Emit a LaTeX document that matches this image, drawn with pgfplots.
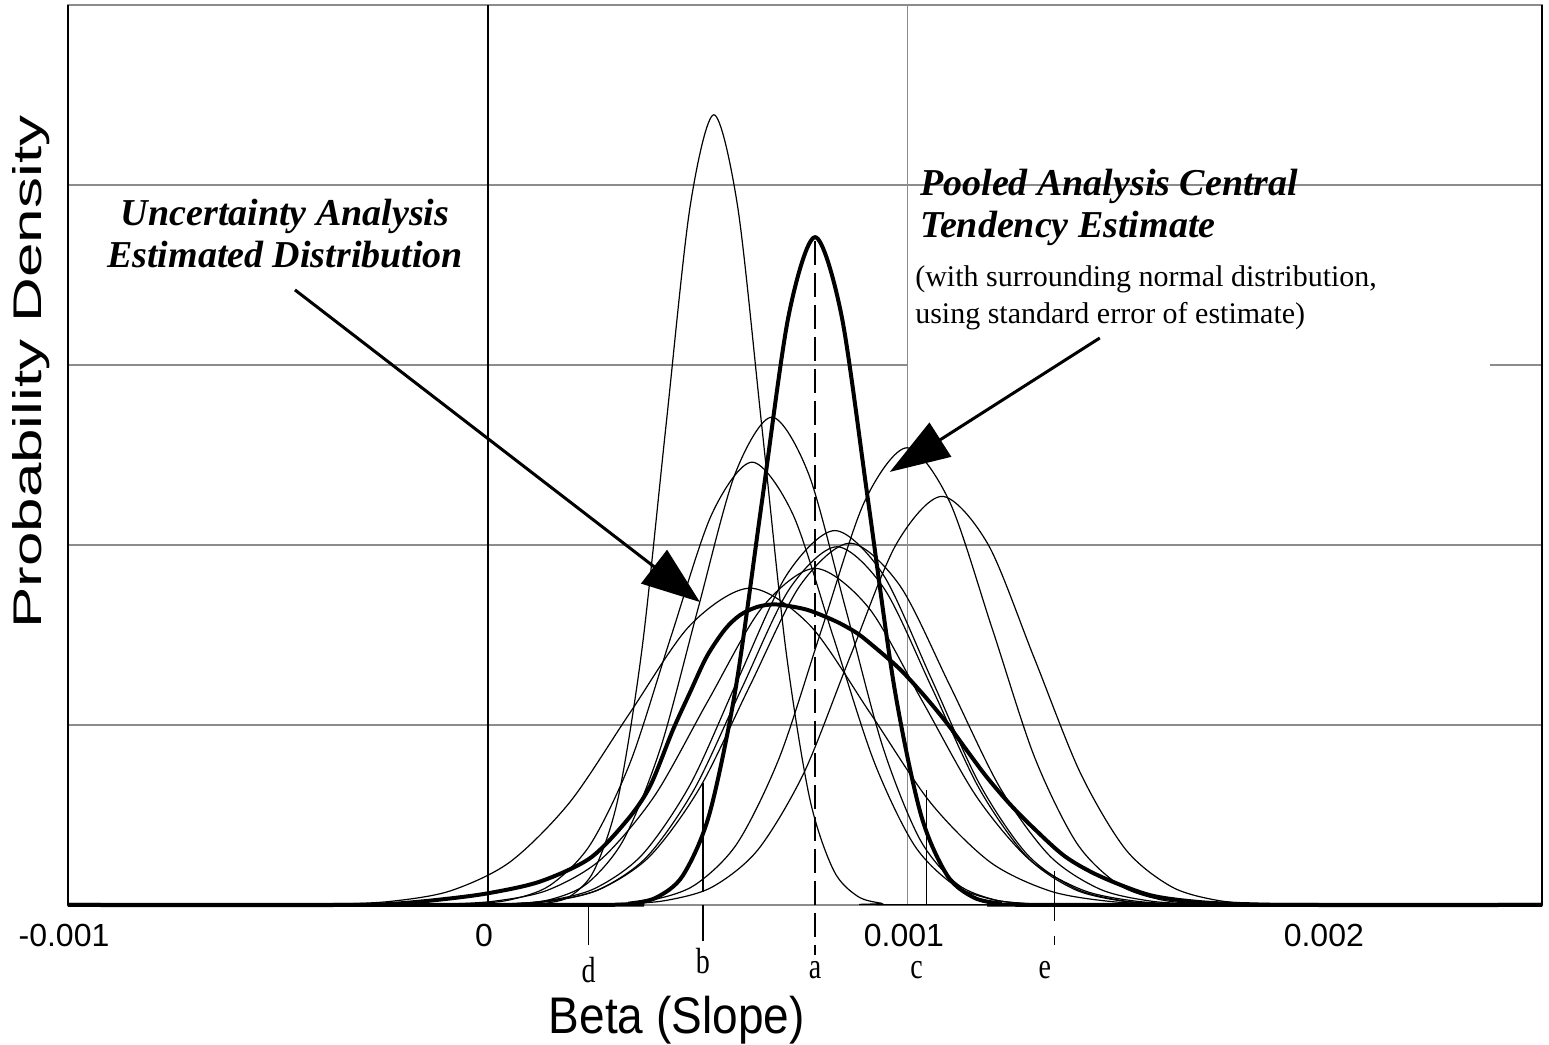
\documentclass[border=0pt]{standalone}
\usepackage{fontspec}
\setmainfont{Liberation Serif}
\newfontfamily\sansf{Liberation Sans}
\usepackage{graphicx}
\usepackage{pgfplots}
\pgfplotsset{compat=1.18}
\usetikzlibrary{arrows.meta}
\definecolor{gridgray}{RGB}{140,140,140}
\begin{document}
\begin{tikzpicture}
\begin{axis}[name=ax, scale only axis, width=737pt, height=450pt,
  xmin=-0.001, xmax=0.00251, ymin=0, ymax=5,
  axis line style={gridgray, line width=0.6pt},
  xtick={-0.001,0,0.001,0.002}, xticklabels={-0.001,0,0.001,0.002},
  scaled x ticks=false,
  ytick=\empty, major tick length=0pt,
  xticklabel style={font=\sansf\fontsize{16}{19}\selectfont, yshift=-6pt, xshift=-2pt},
  clip=false, no markers,
  xlabel={\scalebox{1}[1.12]{Beta (Slope)}},
  ylabel={\scalebox{1.55}[1]{Probability Density}},
  x label style={font=\sansf\fontsize{23}{27}\selectfont, at={(axis description cs:0.413,-0.128)}, anchor=center},
  y label style={font=\sansf\fontsize{20}{24}\selectfont, at={(axis description cs:-0.0251,0.592)}, anchor=center},
  thinc/.style={black, line width=0.6pt, smooth},
  thickc/.style={black, line width=2pt, smooth},
]
% grid and frame
\draw[gridgray, line width=0.6pt] (axis cs:-0.001,1) -- (axis cs:0.00251,1);
\draw[gridgray, line width=0.6pt] (axis cs:-0.001,2) -- (axis cs:0.00251,2);
\draw[gridgray, line width=0.6pt] (axis cs:-0.001,3) -- (axis cs:0.001,3);
\draw[gridgray, line width=0.6pt] (axis cs:2.386e-3,3) -- (axis cs:0.00251,3);
\draw[gridgray, line width=0.6pt] (axis cs:-0.001,4) -- (axis cs:0.00251,4);
\draw[gridgray, line width=0.6pt] (axis cs:0.001,0) -- (axis cs:0.001,5);
\draw[black, line width=0.7pt] (axis cs:0,0) -- (axis cs:0,5);
\draw[black, line width=0.8pt] (rel axis cs:0,0) -- (rel axis cs:0,1);
\draw[black, line width=0.8pt] (rel axis cs:1,0) -- (rel axis cs:1,1);

% thin curves
\addplot[thinc] coordinates {(-1e-3,0) (0.082e-3,0.0013) (0.139e-3,0.0097) (0.196e-3,0.0487) (0.253e-3,0.193) (0.310e-3,0.594) (0.367e-3,1.425) (0.424e-3,2.663) (0.481e-3,3.874) (0.538e-3,4.39) (0.595e-3,3.874) (0.652e-3,2.663) (0.709e-3,1.425) (0.766e-3,0.594) (0.823e-3,0.193) (0.880e-3,0.0487) (0.937e-3,0.0097) (0.994e-3,0.0013) (2.51e-3,0)};
\addplot[thinc] coordinates {(-1e-3,0) (-0.028e-3,0.0008) (0.060e-3,0.0060) (0.148e-3,0.0301) (0.236e-3,0.119) (0.324e-3,0.367) (0.412e-3,0.880) (0.500e-3,1.644) (0.588e-3,2.392) (0.676e-3,2.71) (0.764e-3,2.392) (0.852e-3,1.644) (0.940e-3,0.880) (1.028e-3,0.367) (1.116e-3,0.119) (1.204e-3,0.0301) (1.292e-3,0.0060) (1.380e-3,0.0008) (2.51e-3,0)};
\addplot[thinc] coordinates {(-1e-3,0) (-0.143e-3,0.0007) (-0.047e-3,0.0054) (0.050e-3,0.0273) (0.147e-3,0.108) (0.243e-3,0.333) (0.340e-3,0.799) (0.436e-3,1.492) (0.533e-3,2.171) (0.629e-3,2.46) (0.726e-3,2.171) (0.822e-3,1.492) (0.919e-3,0.799) (1.015e-3,0.333) (1.112e-3,0.108) (1.208e-3,0.0273) (1.305e-3,0.0054) (1.401e-3,0.0007) (2.51e-3,0)};
\addplot[thinc] coordinates {(-1e-3,0) (0.190e-3,0.0008) (0.291e-3,0.0056) (0.392e-3,0.0282) (0.493e-3,0.1115) (0.594e-3,0.344) (0.695e-3,0.825) (0.796e-3,1.541) (0.897e-3,2.242) (0.998e-3,2.54) (1.099e-3,2.242) (1.200e-3,1.541) (1.301e-3,0.825) (1.402e-3,0.344) (1.503e-3,0.1115) (1.604e-3,0.0282) (1.705e-3,0.0056) (1.806e-3,0.0008) (2.51e-3,0)};
\addplot[thinc] coordinates {(-1e-3,0) (0.205e-3,0.0007) (0.315e-3,0.0050) (0.424e-3,0.0252) (0.534e-3,0.0997) (0.643e-3,0.307) (0.753e-3,0.737) (0.862e-3,1.377) (0.972e-3,2.003) (1.081e-3,2.27) (1.191e-3,2.003) (1.300e-3,1.377) (1.410e-3,0.737) (1.519e-3,0.307) (1.629e-3,0.0997) (1.738e-3,0.0252) (1.848e-3,0.0050) (1.957e-3,0.0007) (2.51e-3,0)};
\addplot[thinc] coordinates {(-1e-3,0) (-0.090e-3,0.0006) (0.025e-3,0.0046) (0.139e-3,0.0231) (0.254e-3,0.0913) (0.368e-3,0.281) (0.483e-3,0.675) (0.597e-3,1.262) (0.712e-3,1.836) (0.826e-3,2.08) (0.941e-3,1.836) (1.055e-3,1.262) (1.170e-3,0.675) (1.284e-3,0.281) (1.399e-3,0.0913) (1.513e-3,0.0231) (1.628e-3,0.0046) (1.742e-3,0.0006) (2.51e-3,0)};
\addplot[thinc] coordinates {(-1e-3,0) (-0.090e-3,0.0006) (0.029e-3,0.0044) (0.148e-3,0.0223) (0.267e-3,0.0882) (0.386e-3,0.272) (0.505e-3,0.653) (0.624e-3,1.219) (0.743e-3,1.774) (0.862e-3,2.01) (0.981e-3,1.774) (1.100e-3,1.219) (1.219e-3,0.653) (1.338e-3,0.272) (1.457e-3,0.0882) (1.576e-3,0.0223) (1.695e-3,0.0044) (1.814e-3,0.0006) (2.51e-3,0)};
\addplot[thinc] coordinates {(-1e-3,0) (-0.073e-3,0.0006) (0.040e-3,0.0044) (0.153e-3,0.0221) (0.266e-3,0.0874) (0.379e-3,0.269) (0.492e-3,0.646) (0.605e-3,1.207) (0.718e-3,1.756) (0.831e-3,1.99) (0.944e-3,1.756) (1.057e-3,1.207) (1.170e-3,0.646) (1.283e-3,0.269) (1.396e-3,0.0874) (1.509e-3,0.0221) (1.622e-3,0.0044) (1.735e-3,0.0006) (2.51e-3,0)};
\addplot[thinc] coordinates {(-1e-3,0) (-0.241e-3,0.0006) (-0.114e-3,0.0041) (0.014e-3,0.0208) (0.142e-3,0.0821) (0.269e-3,0.253) (0.397e-3,0.607) (0.524e-3,1.134) (0.652e-3,1.650) (0.779e-3,1.87) (0.907e-3,1.650) (1.034e-3,1.134) (1.162e-3,0.607) (1.289e-3,0.253) (1.417e-3,0.0821) (1.544e-3,0.0208) (1.672e-3,0.0041) (1.799e-3,0.0006) (2.51e-3,0)};
\addplot[thinc] coordinates {(-1e-3,0) (-0.520e-3,0.0005) (-0.377e-3,0.0039) (-0.234e-3,0.0195) (-0.091e-3,0.0773) (0.052e-3,0.238) (0.195e-3,0.571) (0.338e-3,1.067) (0.481e-3,1.553) (0.624e-3,1.76) (0.767e-3,1.553) (0.910e-3,1.067) (1.053e-3,0.571) (1.196e-3,0.238) (1.339e-3,0.0773) (1.482e-3,0.0195) (1.625e-3,0.0039) (1.768e-3,0.0005) (2.51e-3,0)};

% thick curves
\addplot[thickc] coordinates {(-1e-3,0) (0.275e-3,0.0011) (0.338e-3,0.0082) (0.401e-3,0.0412) (0.464e-3,0.163) (0.527e-3,0.502) (0.590e-3,1.205) (0.653e-3,2.250) (0.716e-3,3.274) (0.779e-3,3.71) (0.842e-3,3.274) (0.905e-3,2.250) (0.968e-3,1.205) (1.031e-3,0.502) (1.094e-3,0.163) (1.157e-3,0.0412) (1.220e-3,0.0082) (1.283e-3,0.0011) (2.51e-3,0)};
\addplot[thickc] coordinates {(-1e-3,0) (-0.35e-3,0) (-0.230e-3,0.006) (-0.114e-3,0.03) (0,0.065) (0.124e-3,0.13) (0.243e-3,0.26) (0.331e-3,0.47) (0.386e-3,0.66) (0.440e-3,0.97) (0.481e-3,1.18) (0.521e-3,1.38) (0.564e-3,1.53) (0.600e-3,1.61) (0.640e-3,1.655) (0.679e-3,1.67) (0.719e-3,1.66) (0.760e-3,1.64) (0.800e-3,1.605) (0.838e-3,1.565) (0.879e-3,1.51) (0.917e-3,1.44) (0.981e-3,1.31) (1.040e-3,1.16) (1.093e-3,1.01) (1.140e-3,0.86) (1.188e-3,0.71) (1.243e-3,0.56) (1.298e-3,0.43) (1.374e-3,0.27) (1.457e-3,0.16) (1.576e-3,0.055) (1.695e-3,0.016) (1.814e-3,0.004) (1.95e-3,0) (2.51e-3,0)};

% marker lines
\addplot[black, line width=0.6pt] coordinates {(0.240e-3,0) (0.240e-3,-0.222)};
\addplot[black, line width=0.6pt] coordinates {(0.512e-3,0.07) (0.512e-3,0.68)};
\addplot[black, line width=0.6pt] coordinates {(0.512e-3,0) (0.512e-3,-0.2)};
\addplot[black, line width=0.6pt, dash pattern=on 12pt off 4pt] coordinates {(0.779e-3,3.69) (0.779e-3,-0.28)};
\addplot[black, line width=0.6pt] coordinates {(1.045e-3,0) (1.045e-3,0.64)};
\addplot[black, line width=0.6pt] coordinates {(1.350e-3,0.19) (1.350e-3,-0.09)};
\addplot[black, line width=0.6pt] coordinates {(1.350e-3,-0.17) (1.350e-3,-0.22)};

\node[font=\fontsize{14}{16}\selectfont] at (axis cs:0.240e-3,-0.36) {\scalebox{1}[1.3]{d}};
\node[font=\fontsize{14}{16}\selectfont] at (axis cs:0.512e-3,-0.31) {\scalebox{1}[1.3]{b}};
\node[font=\fontsize{14}{16}\selectfont] at (axis cs:0.779e-3,-0.36) {\scalebox{1}[1.3]{a}};
\node[font=\fontsize{14}{16}\selectfont] at (axis cs:1.021e-3,-0.36) {\scalebox{1}[1.3]{c}};
\node[font=\fontsize{14}{16}\selectfont] at (axis cs:1.326e-3,-0.36) {\scalebox{1}[1.3]{e}};

% annotations
\node[align=center, font=\bfseries\itshape\fontsize{19}{21}\selectfont] at (axis cs:-0.483e-3,3.728) {Uncertainty Analysis\\Estimated Distribution};
\node[align=left, anchor=west, inner sep=0pt, font=\bfseries\itshape\fontsize{19}{21}\selectfont] at (axis cs:1.0286e-3,3.878) {Pooled Analysis Central\\Tendency Estimate};
\node[align=left, anchor=west, inner sep=0pt, font=\fontsize{15}{18.5}\selectfont] at (axis cs:1.0167e-3,3.372) {(with surrounding normal distribution,\\using standard error of estimate)};
\draw[line width=1.5pt, -{Triangle[length=29pt,width=21pt]}] (axis cs:-0.4595e-3,3.417) -- (axis cs:0.5048e-3,1.683);
\draw[line width=1.5pt, -{Triangle[length=30pt,width=20pt]}] (axis cs:1.457e-3,3.15) -- (axis cs:0.957e-3,2.406);
\end{axis}
\pgfresetboundingbox
\path[use as bounding box] ([xshift=-34pt,yshift=-70pt]ax.south west) rectangle ([xshift=3.5pt,yshift=2.5pt]ax.north east);
\end{tikzpicture}
\end{document}
